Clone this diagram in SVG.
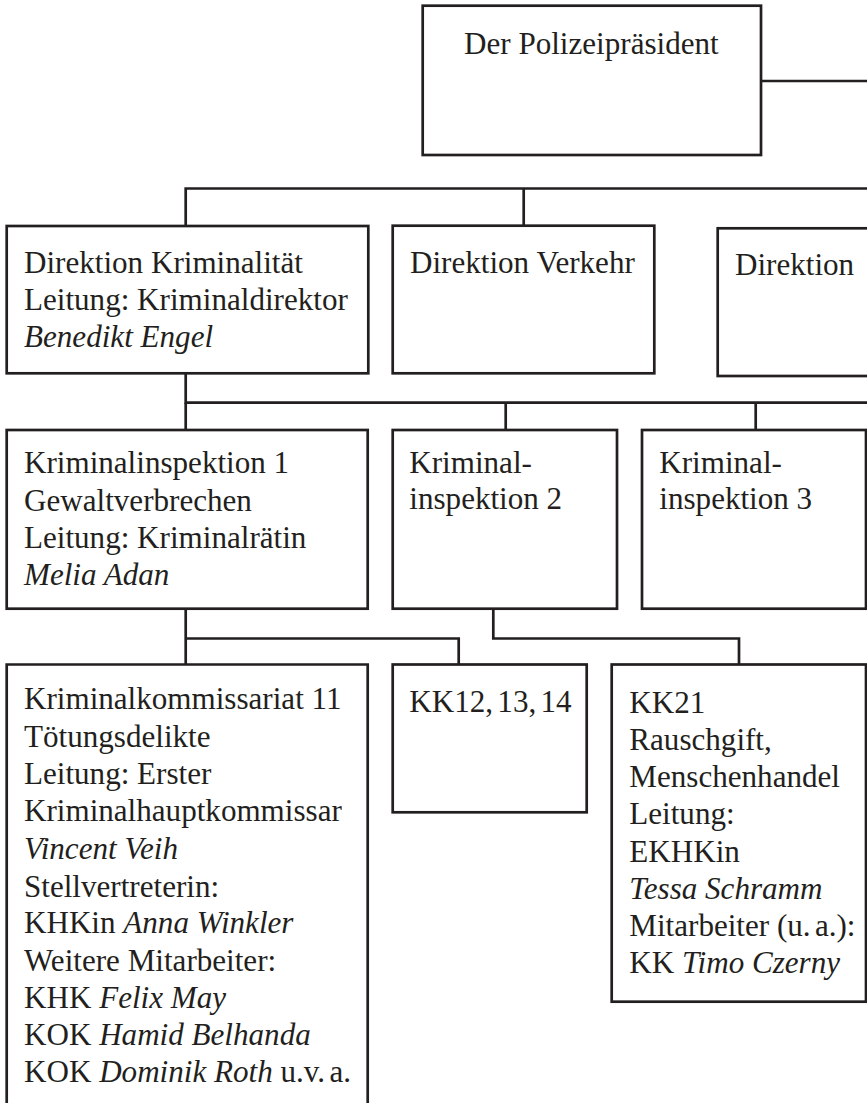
<svg xmlns="http://www.w3.org/2000/svg" width="867" height="1103" viewBox="0 0 867 1103">
<style>
.box{fill:#fff;stroke:#231f20;stroke-width:2.7}
.ln{fill:none;stroke:#231f20;stroke-width:2.7}
text{font-family:"Liberation Serif","Times New Roman",serif;font-size:31.1px;fill:#231f20}
.it{font-style:italic}
.tight{word-spacing:-3.5px}
</style>
<rect width="867" height="1103" fill="#fff"/>
<g id="connectors">
<path class="ln" d="M761 81 H868"/>
<path class="ln" d="M185.7 226 V188.5 H868"/>
<path class="ln" d="M523.7 188.5 V226"/>
<path class="ln" d="M185.7 373 V402.7 H868"/>
<path class="ln" d="M185.7 402.7 V430"/>
<path class="ln" d="M505.7 402.7 V430"/>
<path class="ln" d="M755.7 402.7 V430"/>
<path class="ln" d="M185.7 608.7 V664.5"/>
<path class="ln" d="M185.7 638.5 H458.7 V664.5"/>
<path class="ln" d="M493.3 608.7 V638.5 H739 V664.5"/>
</g>
<g id="praesident">
<rect class="box" x="422.7" y="5.7" width="338.3" height="149.3"/>
<text x="464" y="53.5">Der Polizeipräsident</text>
</g>
<g id="dir-kriminalitaet">
<rect class="box" x="6.7" y="226" width="361.6" height="147.3"/>
<text x="24" y="272.5">Direktion Kriminalität</text>
<text x="24" y="310">Leitung: Kriminaldirektor</text>
<text x="24" y="346.7" class="it">Benedikt Engel</text>
</g>
<g id="dir-verkehr">
<rect class="box" x="392.7" y="225.7" width="261.6" height="147.6"/>
<text x="410" y="272.5">Direktion Verkehr</text>
</g>
<g id="dir-3">
<rect class="box" x="717.7" y="228.3" width="160" height="147.7"/>
<text x="735" y="275">Direktion</text>
</g>
<g id="ki1">
<rect class="box" x="6.7" y="430" width="361" height="178.7"/>
<text x="24" y="473.3">Kriminalinspektion 1</text>
<text x="24" y="510.7">Gewaltverbrechen</text>
<text x="24" y="548">Leitung: Kriminalrätin</text>
<text x="24" y="584.5" class="it">Melia Adan</text>
</g>
<g id="ki2">
<rect class="box" x="392.7" y="430" width="224.3" height="178.7"/>
<text x="409.3" y="472.7">Kriminal-</text>
<text x="409.3" y="509.3">inspektion 2</text>
</g>
<g id="ki3">
<rect class="box" x="642" y="430" width="224" height="178.7"/>
<text x="659.3" y="472.7">Kriminal-</text>
<text x="659.3" y="509.3">inspektion 3</text>
</g>
<g id="kk11">
<path class="box" d="M6.7 1110 V664.5 H367.7 V1110"/>
<text x="24" y="709.3">Kriminalkommissariat 11</text>
<text x="24" y="746.7">Tötungsdelikte</text>
<text x="24" y="784">Leitung: Erster</text>
<text x="24" y="821.3">Kriminalhauptkommissar</text>
<text x="24" y="858.5" class="it">Vincent Veih</text>
<text x="24" y="896.7">Stellvertreterin:</text>
<text x="24" y="933.3">KHKin <tspan class="it">Anna Winkler</tspan></text>
<text x="24" y="970.7">Weitere Mitarbeiter:</text>
<text x="24" y="1008.3">KHK <tspan class="it">Felix May</tspan></text>
<text x="24" y="1045">KOK <tspan class="it">Hamid Belhanda</tspan></text>
<text x="24" y="1081.7">KOK <tspan class="it">Dominik Roth</tspan> u.v.<tspan class="tight"> </tspan>a.</text>
</g>
<g id="kk12">
<rect class="box" x="392.7" y="664.5" width="194" height="147.8"/>
<text x="409.3" y="711.7" class="tight">KK12, 13, 14</text>
</g>
<g id="kk21">
<rect class="box" x="611.7" y="664.5" width="254.3" height="337.2"/>
<text x="629.3" y="712.7">KK21</text>
<text x="629.3" y="750">Rauschgift,</text>
<text x="629.3" y="786.7">Menschenhandel</text>
<text x="629.3" y="824">Leitung:</text>
<text x="629.3" y="861.7">EKHKin</text>
<text x="629.3" y="898.5" class="it">Tessa Schramm</text>
<text x="629.3" y="936">Mitarbeiter (u.<tspan class="tight"> </tspan>a.):</text>
<text x="629.3" y="973.3">KK <tspan class="it">Timo Czerny</tspan></text>
</g>
</svg>
